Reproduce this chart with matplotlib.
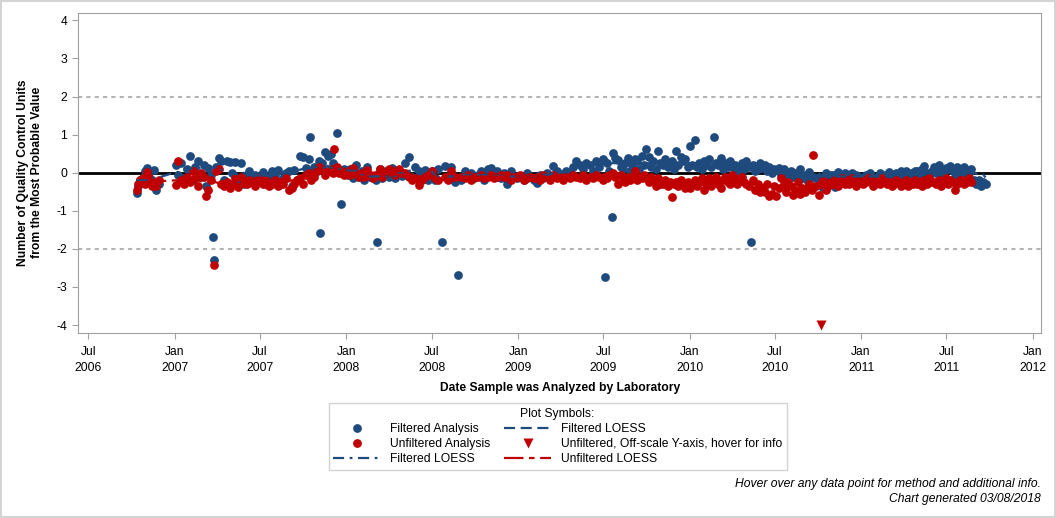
import numpy as np
import pandas as pd
import matplotlib
matplotlib.use("Agg")
import matplotlib.pyplot as plt
import matplotlib.dates as mdates
from matplotlib.ticker import FuncFormatter
from matplotlib.lines import Line2D
from matplotlib.patches import Rectangle

plt.rcParams['font.family'] = ['Liberation Sans', 'DejaVu Sans']
plt.rcParams['font.size'] = 8.7
plt.rcParams['axes.unicode_minus'] = False
plt.rcParams['lines.scale_dashes'] = False

BLUE = '#1f4a7e'
RED = '#c00000'
FRAME = '#a0a0a0'

# ---------------- Data ----------------
dates_2006 = ["2006-10-12", "2006-10-16", "2006-10-20", "2006-10-25", "2006-10-30", "2006-11-03",
              "2006-11-08", "2006-11-13", "2006-11-18", "2006-11-22", "2006-11-28"]
filt_2006 = [-0.53, -0.35, -0.20, -0.15, 0.05, 0.12, -0.10, -0.27, 0.08, -0.45, -0.30]
unf_2006 = [-0.45, -0.30, -0.20, -0.15, -0.30, 0.03, -0.15, -0.35, -0.25, -0.35, -0.20]

dates_2007 = [
    "2007-01-04", "2007-01-09", "2007-01-15", "2007-01-21", "2007-01-27",
    "2007-02-02", "2007-02-08", "2007-02-14", "2007-02-20", "2007-02-26",
    "2007-03-04", "2007-03-08", "2007-03-14", "2007-03-20", "2007-03-24", "2007-03-26", "2007-03-30",
    "2007-04-05", "2007-04-10", "2007-04-16", "2007-04-22", "2007-04-28",
    "2007-05-04", "2007-05-10", "2007-05-16", "2007-05-22", "2007-05-28",
    "2007-06-03", "2007-06-09", "2007-06-15", "2007-06-21", "2007-06-27",
    "2007-07-03", "2007-07-09", "2007-07-15", "2007-07-21", "2007-07-27",
    "2007-08-02", "2007-08-08", "2007-08-14", "2007-08-20", "2007-08-26",
    "2007-09-01", "2007-09-07", "2007-09-13", "2007-09-19", "2007-09-25",
    "2007-10-01", "2007-10-07", "2007-10-13", "2007-10-15", "2007-10-19", "2007-10-25", "2007-10-31",
    "2007-11-05", "2007-11-07", "2007-11-11", "2007-11-17", "2007-11-23", "2007-11-29",
    "2007-12-05", "2007-12-07", "2007-12-13", "2007-12-17", "2007-12-21", "2007-12-27",
]
filt_2007 = [
    0.21, -0.05, 0.25, -0.15, 0.10,
    0.43, -0.20, 0.15, 0.30, -0.10,
    0.20, -0.35, 0.12, -0.05, -1.68, -2.28, 0.15,
    0.38, 0.30, -0.20, 0.32, 0.28,
    0.00, 0.27, -0.25, 0.25, -0.30,
    -0.10, 0.05, -0.20, -0.05, -0.15,
    -0.15, 0.02, -0.30, -0.10, 0.05,
    -0.05, 0.08, -0.30, -0.15, 0.00,
    0.05, -0.35, 0.08, -0.20, 0.45,
    0.40, 0.12, 0.35, 0.94, -0.10, 0.15, 0.05,
    0.30, -1.58, 0.25, 0.55, 0.45, 0.50,
    0.25, 0.05, 1.05, 0.08, -0.82, 0.10,
]
unf_2007 = [
    -0.32, 0.32, -0.20, -0.30, -0.10,
    -0.25, 0.05, -0.15, -0.35, 0.00,
    -0.10, -0.62, -0.45, -0.20, np.nan, -2.42, 0.05,
    0.10, -0.30, -0.35, -0.25, -0.40,
    -0.30, -0.15, -0.38, -0.10, -0.28,
    -0.30, -0.20, -0.25, -0.35, -0.15,
    -0.25, -0.30, -0.20, -0.35, -0.30,
    -0.20, -0.35, -0.25, -0.30, -0.15,
    -0.45, -0.40, -0.30, -0.20, -0.15,
    -0.30, -0.05, 0.00, np.nan, -0.20, -0.10, 0.05,
    0.15, np.nan, 0.10, -0.05, 0.05, 0.10,
    0.00, 0.63, 0.15, 0.00, 0.05, -0.05,
]

dates_2008 = [
    "2008-01-04", "2008-01-10", "2008-01-16", "2008-01-22", "2008-01-28",
    "2008-02-03", "2008-02-09", "2008-02-15", "2008-02-21", "2008-02-27",
    "2008-03-04", "2008-03-07", "2008-03-12", "2008-03-18", "2008-03-25",
    "2008-04-01", "2008-04-08", "2008-04-15", "2008-04-22", "2008-04-29",
    "2008-05-06", "2008-05-13", "2008-05-20", "2008-05-27",
    "2008-06-03", "2008-06-10", "2008-06-17", "2008-06-24",
    "2008-07-01", "2008-07-08", "2008-07-15", "2008-07-23", "2008-07-29",
    "2008-08-05", "2008-08-12", "2008-08-19", "2008-08-26",
    "2008-09-02", "2008-09-09", "2008-09-16", "2008-09-23", "2008-09-30",
    "2008-10-07", "2008-10-14", "2008-10-21", "2008-10-28",
    "2008-11-04", "2008-11-11", "2008-11-18", "2008-11-25",
    "2008-12-02", "2008-12-09", "2008-12-16", "2008-12-23", "2008-12-30",
]
filt_2008 = [
    -0.05, 0.10, -0.15, 0.21, -0.10,
    0.05, -0.20, 0.15, -0.10, -0.15,
    -0.18, -1.82, 0.10, -0.15, 0.05,
    -0.10, 0.12, -0.15, 0.05, -0.08,
    0.25, 0.41, -0.10, 0.15,
    0.05, -0.12, 0.08, -0.18,
    0.05, -0.20, 0.10, -1.82, 0.18,
    -0.10, 0.15, -0.25, -2.68,
    -0.20, 0.05, -0.10, 0.00, -0.15,
    -0.05, 0.05, -0.20, 0.10,
    0.12, -0.08, 0.05, -0.15,
    0.00, -0.30, 0.05, -0.10, -0.15,
]
unf_2008 = [
    0.05, -0.05, 0.12, 0.00, -0.10,
    0.00, -0.10, 0.08, -0.05, -0.15,
    -0.05, np.nan, 0.10, -0.10, 0.00,
    0.10, 0.05, -0.05, 0.10, 0.00,
    0.00, -0.10, -0.20, -0.15,
    -0.31, -0.20, -0.10, -0.05,
    0.05, -0.15, -0.20, np.nan, -0.10,
    -0.20, 0.05, -0.10, np.nan,
    -0.10, -0.15, -0.05, -0.20, -0.10,
    -0.12, -0.05, -0.15, -0.10,
    -0.05, -0.15, -0.10, -0.05,
    -0.10, -0.05, -0.20, -0.10, -0.10,
]

dates_2009 = [
    "2009-01-06", "2009-01-13", "2009-01-20", "2009-01-27",
    "2009-02-03", "2009-02-10", "2009-02-17", "2009-02-24",
    "2009-03-03", "2009-03-10", "2009-03-17", "2009-03-24", "2009-03-31",
    "2009-04-07", "2009-04-14", "2009-04-21", "2009-04-28",
    "2009-05-05", "2009-05-12", "2009-05-19", "2009-05-26",
    "2009-06-02", "2009-06-09", "2009-06-16", "2009-06-23", "2009-06-30",
    "2009-07-03", "2009-07-05", "2009-07-09", "2009-07-14", "2009-07-20", "2009-07-22", "2009-07-27",
    "2009-08-02", "2009-08-07", "2009-08-12", "2009-08-17", "2009-08-22", "2009-08-27",
    "2009-09-01", "2009-09-06", "2009-09-11", "2009-09-16", "2009-09-21", "2009-09-26",
    "2009-10-01", "2009-10-06", "2009-10-11", "2009-10-16", "2009-10-21", "2009-10-26", "2009-10-31",
    "2009-11-05", "2009-11-10", "2009-11-15", "2009-11-20", "2009-11-24", "2009-11-28",
    "2009-12-03", "2009-12-08", "2009-12-13", "2009-12-18", "2009-12-23", "2009-12-28",
]
filt_2009 = [
    -0.12, -0.20, 0.00, -0.10,
    -0.20, -0.27, -0.05, -0.15,
    0.00, -0.10, 0.17, 0.05, -0.05,
    -0.05, 0.05, 0.00, 0.15,
    0.30, 0.20, 0.10, 0.25,
    0.20, 0.05, 0.30, 0.15, 0.35,
    0.30, -2.73, 0.25, 0.05, -1.17, 0.51, 0.38,
    0.33, 0.15, 0.10, 0.25, 0.38, 0.05,
    0.20, 0.35, 0.30, 0.10, 0.45, 0.20,
    0.63, 0.42, 0.15, 0.30, 0.10, 0.57, 0.25,
    0.20, 0.35, 0.15, 0.25, 0.30, 0.10,
    0.57, 0.20, 0.42, 0.30, 0.35, 0.15,
]
unf_2009 = [
    -0.05, -0.20, -0.15, -0.10,
    -0.15, -0.10, -0.20, -0.05,
    -0.10, -0.20, -0.05, -0.15, -0.10,
    -0.20, -0.10, -0.15, -0.05,
    -0.10, -0.15, -0.05, -0.20,
    -0.10, -0.15, -0.05, -0.10, -0.20,
    -0.10, np.nan, -0.15, -0.05, np.nan, 0.00, -0.10,
    -0.30, -0.05, -0.15, -0.25, -0.10, -0.20,
    -0.10, 0.05, -0.20, -0.10, -0.15, -0.05,
    -0.15, -0.25, -0.10, -0.20, -0.35, -0.15, -0.30,
    -0.30, -0.20, -0.35, -0.25, -0.63, -0.30,
    -0.25, -0.35, -0.20, -0.30, -0.40, -0.25,
]

dates_2010 = [
    "2010-01-02", "2010-01-07", "2010-01-12", "2010-01-17", "2010-01-22", "2010-01-27",
    "2010-02-01", "2010-02-06", "2010-02-11", "2010-02-16", "2010-02-21", "2010-02-26",
    "2010-03-03", "2010-03-08", "2010-03-13", "2010-03-18", "2010-03-23", "2010-03-28",
    "2010-04-02", "2010-04-07", "2010-04-12", "2010-04-17", "2010-04-22", "2010-04-27",
    "2010-05-02", "2010-05-07", "2010-05-11", "2010-05-16", "2010-05-21", "2010-05-26", "2010-05-31",
    "2010-06-05", "2010-06-10", "2010-06-15", "2010-06-20", "2010-06-25", "2010-06-30",
    "2010-07-05", "2010-07-10", "2010-07-15", "2010-07-20", "2010-07-25", "2010-07-30",
    "2010-08-04", "2010-08-09", "2010-08-14", "2010-08-19", "2010-08-24", "2010-08-29",
    "2010-09-03", "2010-09-08", "2010-09-13", "2010-09-18", "2010-09-21", "2010-09-28",
    "2010-10-03", "2010-10-08", "2010-10-13", "2010-10-18", "2010-10-23", "2010-10-28",
    "2010-11-02", "2010-11-07", "2010-11-12", "2010-11-17", "2010-11-22", "2010-11-27",
    "2010-12-02", "2010-12-07", "2010-12-12", "2010-12-17", "2010-12-22", "2010-12-27",
]
filt_2010 = [
    0.71, 0.20, 0.86, 0.15, 0.25, 0.10,
    0.30, 0.20, 0.35, 0.15, 0.94, 0.25,
    0.20, 0.38, 0.10, 0.25, 0.15, 0.30,
    0.15, 0.20, 0.05, 0.12, 0.25, 0.10,
    0.30, 0.15, -1.82, 0.20, 0.05, 0.10, 0.25,
    0.12, 0.20, 0.05, 0.15, 0.00, 0.10,
    0.07, 0.12, -0.05, 0.10, 0.00, -0.10,
    0.05, -0.10, 0.00, -0.05, 0.10, -0.15,
    -0.05, -0.20, 0.03, -0.36, -0.10, -0.15,
    -0.10, -0.20, -0.40, 0.00, -0.15, -0.05,
    -0.05, -0.37, 0.02, -0.10, -0.20, 0.00,
    -0.10, -0.15, 0.00, -0.20, -0.05, -0.10,
]
unf_2010 = [
    -0.40, -0.30, -0.20, -0.35, -0.25, -0.15,
    -0.45, -0.30, -0.15, -0.35, -0.25, -0.10,
    -0.30, -0.40, -0.20, -0.10, -0.25, -0.30,
    -0.05, -0.15, -0.30, -0.20, -0.10, -0.25,
    -0.30, -0.35, np.nan, -0.20, -0.45, -0.30, -0.50,
    -0.40, -0.50, -0.30, -0.60, -0.55, -0.35,
    -0.60, -0.40, -0.15, -0.30, -0.50, -0.25,
    -0.35, -0.58, -0.45, -0.25, -0.55, -0.40,
    -0.50, -0.40, -0.30, -0.45, 0.47, -0.35,
    -0.58, -0.30, -0.20, -0.45, -0.35, -0.25,
    -0.30, -0.20, -0.35, -0.25, -0.15, -0.30,
    -0.20, -0.30, -0.15, -0.25, -0.35, -0.20,
]

dates_2011 = [
    "2011-01-01", "2011-01-06", "2011-01-11", "2011-01-16", "2011-01-21", "2011-01-26", "2011-01-31",
    "2011-02-05", "2011-02-10", "2011-02-15", "2011-02-20", "2011-02-25",
    "2011-03-02", "2011-03-07", "2011-03-12", "2011-03-17", "2011-03-22", "2011-03-27",
    "2011-04-01", "2011-04-06", "2011-04-11", "2011-04-16", "2011-04-21", "2011-04-26",
    "2011-05-01", "2011-05-06", "2011-05-11", "2011-05-16", "2011-05-21", "2011-05-26", "2011-05-31",
    "2011-06-05", "2011-06-10", "2011-06-15", "2011-06-20", "2011-06-25", "2011-06-30",
    "2011-07-05", "2011-07-10", "2011-07-15", "2011-07-20", "2011-07-25", "2011-07-30",
    "2011-08-04", "2011-08-09", "2011-08-14", "2011-08-19", "2011-08-24", "2011-08-29",
    "2011-09-03", "2011-09-08", "2011-09-13", "2011-09-18", "2011-09-23",
]
filt_2011 = [
    -0.15, -0.25, -0.05, -0.10, 0.00, -0.15, -0.30,
    -0.10, 0.00, -0.15, -0.05, -0.10,
    0.02, -0.05, -0.15, 0.00, -0.10, 0.05,
    -0.10, 0.05, -0.05, 0.00, -0.15, 0.05,
    0.05, -0.05, 0.10, 0.17, 0.00, -0.10, 0.05,
    0.15, 0.00, 0.20, 0.05, -0.05, 0.12,
    0.10, 0.17, 0.05, -0.10, 0.15, 0.00,
    0.05, 0.15, -0.05, 0.00, 0.10, -0.20,
    -0.30, -0.20, -0.36, -0.25, -0.30,
]
unf_2011 = [
    -0.20, -0.30, -0.25, -0.15, -0.20, -0.35, -0.25,
    -0.20, -0.30, -0.15, -0.25, -0.30,
    -0.25, -0.35, -0.30, -0.20, -0.25, -0.35,
    -0.30, -0.20, -0.35, -0.25, -0.30, -0.20,
    -0.30, -0.25, -0.35, -0.20, -0.30, -0.15, -0.25,
    -0.25, -0.30, -0.20, -0.35, -0.25, -0.15,
    -0.30, -0.20, -0.25, -0.45, -0.30, -0.20,
    -0.20, -0.30, -0.25, -0.15, -0.25, np.nan,
    np.nan, np.nan, np.nan, np.nan, np.nan,
]

# unfiltered result below the axis range, drawn at the bottom tick
offscale_dates = ["2010-10-08"]
offscale_shown = [-4.0]

method_change = "2008-07-01"   # filtered LOESS style switches here

dates = pd.to_datetime(dates_2006 + dates_2007 + dates_2008 + dates_2009 + dates_2010 + dates_2011)
filt = np.array(filt_2006 + filt_2007 + filt_2008 + filt_2009 + filt_2010 + filt_2011)
unf = np.array(unf_2006 + unf_2007 + unf_2008 + unf_2009 + unf_2010 + unf_2011)

# ---------------- Smoothers ----------------
fs = pd.Series(filt, index=dates).dropna()
us = pd.Series(unf, index=dates).dropna()
f_smooth = fs.rolling('120D', center=True).median()
u_smooth = us.rolling('120D', center=True).median()
cut = pd.Timestamp(method_change)

# ---------------- Plot ----------------
fig = plt.figure(figsize=(10.56, 5.18), dpi=100)
ax = fig.add_axes([0.0742, 0.3577, 0.9116, 0.6178])

ax.axhline(0, color='black', lw=2, zorder=1)
for yv in (-2, 2):
    ax.axhline(yv, color='#b4b4b4', lw=1.5, dashes=(3, 3), zorder=1)

ax.plot(dates, filt, 'o', color=BLUE, ms=6.3, mec='none', zorder=2)
ax.plot(dates, unf, 'o', color=RED, ms=6.3, mec='none', zorder=3)
ax.plot(pd.to_datetime(offscale_dates), offscale_shown, 'v', color=RED, ms=6.5, mec='none', zorder=3)

ax.plot(f_smooth[f_smooth.index <= cut], color=BLUE, lw=1.6, dashes=(8, 4, 2, 4), zorder=4)
ax.plot(f_smooth[f_smooth.index >= cut], color=BLUE, lw=1.6, dashes=(8, 4), zorder=4)
ax.plot(u_smooth, color=RED, lw=1.6, dashes=(14, 4, 4, 4), zorder=4)

ax.set_ylim(-4.2, 4.2)
ax.set_yticks(range(-4, 5))
ax.set_xlim(pd.Timestamp('2006-06-10'), pd.Timestamp('2012-01-19'))
ax.xaxis.set_major_locator(mdates.MonthLocator(bymonth=[1, 7]))
ax.xaxis.set_major_formatter(FuncFormatter(lambda v, p: mdates.num2date(v).strftime('%b\n%Y')))

for s in ax.spines.values():
    s.set_color(FRAME)
ax.tick_params(color=FRAME, length=4.5, width=0.8, labelsize=8.7)
ax.tick_params(axis='x', pad=5)
for t in ax.xaxis.get_major_ticks():
    t.label1.set_linespacing(1.4)

ax.set_ylabel("Number of Quality Control Units\nfrom the Most Probable Value", fontweight='bold', fontsize=8.7)
ax.yaxis.set_label_coords(-0.037, 0.5)
ax.set_xlabel("Date Sample was Analyzed by Laboratory", fontweight='bold', fontsize=8.7)
ax.xaxis.set_label_coords(0.5, -0.155)

# ---------------- Legend ----------------
handles = [
    Line2D([], [], ls='none', marker='o', color=BLUE, ms=6.3, mec='none'),
    Line2D([], [], ls='none', marker='o', color=RED, ms=6.3, mec='none'),
    Line2D([], [], color=BLUE, lw=1.6, dashes=(8, 4, 2, 4)),
    Line2D([], [], color=BLUE, lw=1.6, dashes=(8, 4)),
    Line2D([], [], ls='none', marker='v', color=RED, ms=6.5, mec='none'),
    Line2D([], [], color=RED, lw=1.6, dashes=(14, 4, 4, 4)),
]
labels = ["Filtered Analysis", "Unfiltered Analysis", "Filtered LOESS",
          "Filtered LOESS", "Unfiltered, Off-scale Y-axis, hover for info", "Unfiltered LOESS"]
leg = fig.legend(handles, labels, ncol=2, loc='upper center', bbox_to_anchor=(0.528, 0.222),
                 title="Plot Symbols:", title_fontsize=8.7, fontsize=8.7, frameon=True,
                 fancybox=False, edgecolor='#c8c8c8', handlelength=3.9, handletextpad=0.75,
                 columnspacing=1.2, labelspacing=0.25, borderpad=0.4, borderaxespad=0)
leg.get_frame().set_linewidth(1.0)

fig.text(1041 / 1056, 1 - 484 / 518, "Hover over any data point for method and additional info.",
         ha='right', va='center', style='italic', fontsize=8.7)
fig.text(1041 / 1056, 1 - 499 / 518, "Chart generated 03/08/2018",
         ha='right', va='center', style='italic', fontsize=8.7)

fig.patches.append(Rectangle((0.001, 0.002), 0.998, 0.996, transform=fig.transFigure,
                             fill=False, ec='#d4d4d4', lw=1.5))

fig.savefig('out.png', dpi=100)
